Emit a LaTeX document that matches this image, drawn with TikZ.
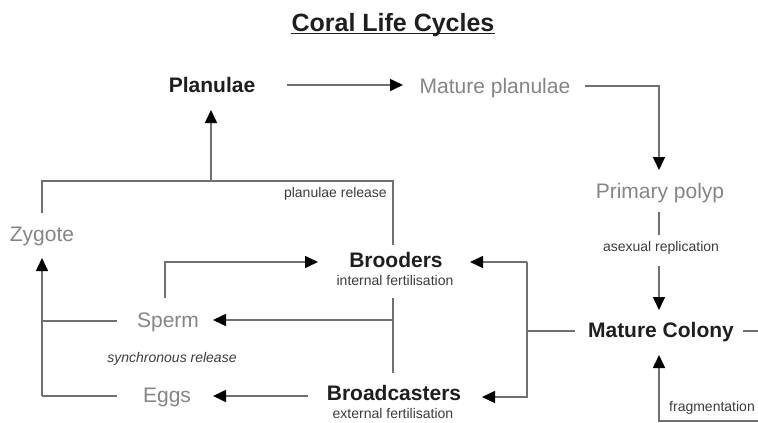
\documentclass[tikz,border=0pt]{standalone}
\usepackage{fontspec}
\setmainfont{Liberation Sans}
\usetikzlibrary{arrows.meta}
\definecolor{lgray}{HTML}{858585}
\definecolor{lineg}{HTML}{707070}
\definecolor{darkt}{HTML}{1E1E1E}
\definecolor{smallt}{HTML}{3C3C3C}
\tikzset{
  big/.style={anchor=base,inner sep=0pt,font=\fontsize{21}{24}\selectfont},
  stage/.style={big,text=lgray},
  group/.style={big,text=darkt,font=\fontsize{21}{24}\selectfont\bfseries},
  note/.style={anchor=base,inner sep=0pt,text=smallt,font=\fontsize{14}{16}\selectfont},
  conn/.style={draw=lineg,line width=1.6pt},
  arr/.style={conn,-{Triangle[length=13pt,width=12pt,color=black]}}
}
\begin{document}
\begin{tikzpicture}[x=1pt,y=-1pt]
\useasboundingbox (0,0) rectangle (758,423);
% title
\node[anchor=base,inner sep=0pt,text=darkt,font=\fontsize{25}{28}\selectfont\bfseries] (title) at (393,31) {Coral Life Cycles};
\draw[darkt,line width=1.8pt] (title.base west) ++(0,2.5) coordinate (ul1) -- (title.base east |- ul1);
% nodes
\node[group] (planulae) at (212,92) {Planulae};
\node[stage] (mplan) at (495,93) {Mature planulae};
\node[stage] (ppolyp) at (660,198) {Primary polyp};
\node[note] (asex) at (661,251) {asexual replication};
\node[group] (colony) at (661,337) {Mature Colony};
\node[note] (frag) at (712,411) {fragmentation};
\node[group] (brooders) at (396,267) {Brooders};
\node[note] (intf) at (395,285) {internal fertilisation};
\node[group] (broad) at (394,400) {Broadcasters};
\node[note] (extf) at (393,418) {external fertilisation};
\node[stage] (zygote) at (42,241) {Zygote};
\node[stage] (sperm) at (168,327) {Sperm};
\node[stage] (eggs) at (167,402) {Eggs};
\node[note,font=\fontsize{14}{16}\selectfont\itshape] (sync) at (172,362) {synchronous release};
\node[note,anchor=base east] (prel) at (387,197) {planulae release};
% coordinates
\coordinate (pA) at (287,85);
\coordinate (pB) at (403,85);
\coordinate (mA) at (585,86);
\coordinate (mB) at (659,86);
\coordinate (mC) at (659,170);
\coordinate (ppA) at (659,212);
\coordinate (ppB) at (659,235);
\coordinate (ppC) at (659,266);
\coordinate (ppD) at (659,310);
\coordinate (fA) at (758,421);
\coordinate (fB) at (659,421);
\coordinate (fC) at (659,355);
\coordinate (rA) at (743,331);
\coordinate (rB) at (758,331);
\coordinate (cA) at (575,331);
\coordinate (cB) at (527,331);
\coordinate (cT) at (527,262);
\coordinate (cBot) at (527,397);
\coordinate (brIn) at (470,262);
\coordinate (bcIn) at (482,397);
\coordinate (bUp) at (393,245);
\coordinate (bTop) at (393,181);
\coordinate (zTop) at (42,181);
\coordinate (zA) at (42,213);
\coordinate (plA) at (211,181);
\coordinate (plB) at (211,110);
\coordinate (vA) at (393,298);
\coordinate (vB) at (393,373);
\coordinate (vS) at (393,320);
\coordinate (spIn) at (213,320);
\coordinate (eA) at (308,396);
\coordinate (eIn) at (213,396);
\coordinate (zB) at (42,396);
\coordinate (zIn) at (42,258);
\coordinate (sA) at (117,321);
\coordinate (sB) at (42,321);
\coordinate (egA) at (117,396);
\coordinate (sU) at (165,298);
\coordinate (sV) at (165,262);
\coordinate (brL) at (318,262);
% connectors
\draw[arr] (pA) -- (pB);
\draw[arr] (mA) -- (mB) -- (mC);
\draw[conn] (ppA) -- (ppB);
\draw[arr] (ppC) -- (ppD);
\draw[arr] (fA) -- (fB) -- (fC);
\draw[conn] (rA) -- (rB);
\draw[conn] (cA) -- (cB);
\draw[arr] (cT) -- (brIn);
\draw[arr] (cT) -- (cBot) -- (bcIn);
\draw[conn] (bUp) -- (bTop) -- (zTop) -- (zA);
\draw[arr] (plA) -- (plB);
\draw[conn] (vA) -- (vB);
\draw[arr] (vS) -- (spIn);
\draw[arr] (eA) -- (eIn);
\draw[arr] (zB) -- (zIn);
\draw[conn] (sA) -- (sB);
\draw[conn] (egA) -- (zB);
\draw[arr] (sU) -- (sV) -- (brL);
\end{tikzpicture}
\end{document}
